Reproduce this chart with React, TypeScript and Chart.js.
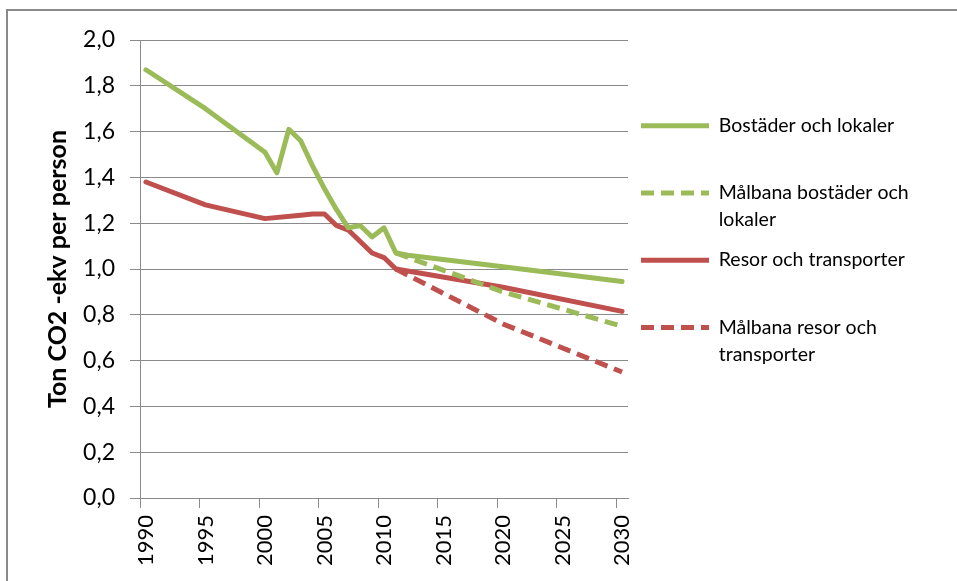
import React, { useEffect, useRef } from 'react';
import { Chart, registerables } from 'chart.js';

Chart.register(...registerables);

const years = [
  '1990', '1991', '1992', '1993', '1994', '1995', '1996', '1997', '1998', '1999',
  '2000', '2001', '2002', '2003', '2004', '2005', '2006', '2007', '2008', '2009',
  '2010', '2011', '2012', '2013', '2014', '2015', '2016', '2017', '2018', '2019',
  '2020', '2021', '2022', '2023', '2024', '2025', '2026', '2027', '2028', '2029',
  '2030',
];

// Bostäder och lokaler (solid green)
const bostader = [
  1.87, null, null, null, null, 1.70, null, null, null, null,
  1.51, 1.42, 1.61, 1.56, 1.45, 1.35, 1.26, 1.18, 1.19, 1.14,
  1.18, 1.07, 1.06, null, null, null, null, null, null, null,
  1.01, null, null, null, null, null, null, null, null, null,
  0.945,
];

// Målbana bostäder och lokaler (dashed green)
const malbanaBostader = [
  null, null, null, null, null, null, null, null, null, null,
  null, null, null, null, null, null, null, null, null, null,
  null, 1.07, null, null, null, null, null, null, null, null,
  0.90, null, null, null, null, null, null, null, null, null,
  0.75,
];

// Resor och transporter (solid red)
const resor = [
  1.38, null, null, null, null, 1.28, null, null, null, null,
  1.22, null, null, 1.235, 1.24, 1.24, 1.19, 1.17, 1.12, 1.07,
  1.05, 1.00, null, null, null, null, null, null, null, null,
  0.92, null, null, null, null, null, null, null, null, null,
  0.815,
];

// Målbana resor och transporter (dashed red)
const malbanaResor = [
  null, null, null, null, null, null, null, null, null, null,
  null, null, null, null, null, null, null, null, null, null,
  null, 1.00, null, null, null, null, null, null, null, null,
  0.76, null, null, null, null, null, null, null, null, null,
  0.55,
];

const seriesNames = [
  'Bostäder och lokaler',
  'Målbana bostäder och lokaler',
  'Resor och transporter',
  'Målbana resor och transporter',
];

const legendLines = [
  ['Bostäder och lokaler', ''],
  ['Målbana bostäder och', 'lokaler'],
  ['Resor och transporter', ''],
  ['Målbana resor och', 'transporter'],
];

const GREEN = '#9BBB59';
const RED = '#C0504D';
const GRID = '#8a8a8a';
const FONT = 'Lato';
const PAD_SPACES = '                              ';

export default function App() {
  const canvasRef = useRef<HTMLCanvasElement | null>(null);

  useEffect(() => {
    if (!canvasRef.current) return;
    const chart = new Chart(canvasRef.current, {
      type: 'line',
      data: {
        labels: years,
        datasets: [
          {
            label: seriesNames[0],
            data: bostader,
            borderColor: GREEN,
            backgroundColor: GREEN,
            borderWidth: 5,
            borderCapStyle: 'round',
            borderJoinStyle: 'round',
            pointRadius: 0,
            spanGaps: true,
            tension: 0,
          },
          {
            label: seriesNames[1],
            data: malbanaBostader,
            borderColor: GREEN,
            backgroundColor: GREEN,
            borderWidth: 5,
            borderDash: [13, 7],
            borderCapStyle: 'butt',
            pointRadius: 0,
            spanGaps: true,
            tension: 0,
          },
          {
            label: seriesNames[2],
            data: resor,
            borderColor: RED,
            backgroundColor: RED,
            borderWidth: 5,
            borderCapStyle: 'round',
            borderJoinStyle: 'round',
            pointRadius: 0,
            spanGaps: true,
            tension: 0,
          },
          {
            label: seriesNames[3],
            data: malbanaResor,
            borderColor: RED,
            backgroundColor: RED,
            borderWidth: 5,
            borderDash: [13, 7],
            borderCapStyle: 'butt',
            pointRadius: 0,
            spanGaps: true,
            tension: 0,
          },
        ],
      },
      options: {
        responsive: true,
        maintainAspectRatio: false,
        animation: false,
        events: [],
        layout: { padding: { left: 10, top: 29, right: 10, bottom: 0 } },
        plugins: {
          tooltip: { enabled: false },
          legend: {
            position: 'right',
            align: 'start',
            maxWidth: 319,
            title: {
              display: true,
              text: ' ',
              padding: { top: 53, bottom: 0 },
              font: { size: 10, lineHeight: 1 },
            },
            labels: {
              usePointStyle: true,
              pointStyleWidth: 68,
              padding: 13,
              color: '#000',
              font: { family: FONT, size: 19.5, lineHeight: 1.39 },
              generateLabels: (c: any) => {
                const items = Chart.defaults.plugins.legend.labels.generateLabels(c);
                return items.map((it: any, i: number) => {
                  const ds = c.data.datasets[i];
                  const lines = legendLines[i].slice();
                  lines[0] = lines[0] + PAD_SPACES;
                  return {
                    ...it,
                    text: lines,
                    pointStyle: 'line',
                    lineWidth: 5,
                    strokeStyle: ds.borderColor,
                    fillStyle: ds.borderColor,
                    lineDash: ds.borderDash || [],
                    lineDashOffset: 0,
                    lineCap: 'butt',
                    fontColor: '#000',
                  };
                });
              },
            },
          },
        },
        scales: {
          x: {
            type: 'category',
            offset: true,
            afterFit: (s: any) => { s.height = 83; },
            grid: {
              display: true,
              offset: true,
              drawOnChartArea: false,
              drawTicks: true,
              tickLength: 10,
              color: GRID,
              tickColor: (ctx: any) =>
                ctx.tick !== undefined && typeof ctx.index === 'number' && ctx.index % 5 === 0 ? GRID : 'rgba(0,0,0,0)',
            },
            border: { display: true, color: GRID, width: 1 },
            ticks: {
              autoSkip: false,
              minRotation: 90,
              maxRotation: 90,
              padding: 7,
              color: '#000',
              font: { family: FONT, size: 22 },
              callback: (_v: any, i: number) => (i % 5 === 0 ? years[i] : ''),
            },
          },
          y: {
            min: 0,
            max: 2,
            afterFit: (s: any) => { s.width = 122; },
            grid: {
              color: GRID,
              lineWidth: 1,
              drawTicks: true,
              tickLength: 10,
              tickColor: GRID,
            },
            border: { display: true, color: GRID, width: 1 },
            ticks: {
              stepSize: 0.2,
              padding: 15,
              color: '#000',
              font: { family: FONT, size: 23 },
              callback: (v: any) => Number(v).toFixed(1).replace('.', ','),
            },
            title: {
              display: true,
              text: 'Ton CO2 -ekv per person',
              color: '#000',
              font: { family: FONT, size: 25, weight: 'bold', lineHeight: 1.2 },
              padding: { top: 25, bottom: 0 },
            },
          },
        },
      },
    } as any);
    return () => chart.destroy();
  }, []);

  return (
    <div
      style={{
        position: 'fixed',
        left: 6,
        top: 9,
        width: 951,
        height: 580,
        boxSizing: 'border-box',
        borderLeft: '2px solid #898989',
        borderTop: '2px solid #898989',
        background: '#fff',
      }}
    >
      <div style={{ position: 'absolute', left: 0, top: 0, width: 949, height: 570 }}>
        <canvas ref={canvasRef} />
      </div>
    </div>
  );
}
